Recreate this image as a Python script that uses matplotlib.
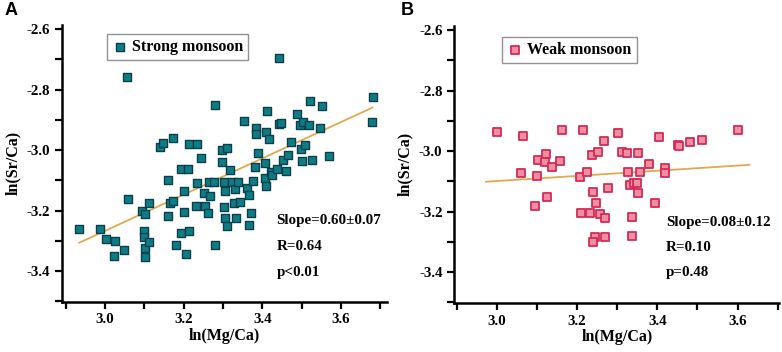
import numpy as np
import matplotlib
matplotlib.use("Agg")
import matplotlib.pyplot as plt
from matplotlib.ticker import MultipleLocator

plt.rcParams["font.family"] = ["Liberation Serif", "DejaVu Serif"]
plt.rcParams["font.weight"] = "bold"
plt.rcParams["axes.unicode_minus"] = False

# strong monsoon samples (ln Mg/Ca, ln Sr/Ca)
strong_x = [2.935, 2.987, 3.003, 3.026, 3.024, 3.049, 3.055, 3.058, 3.095, 3.101,
            3.099, 3.099, 3.102, 3.102, 3.112, 3.112, 3.141, 3.148, 3.173, 3.160,
            3.160, 3.164, 3.173, 3.181, 3.192, 3.192, 3.202, 3.202, 3.206, 3.211,
            3.213, 3.213, 3.234, 3.233, 3.231, 3.244, 3.251, 3.253, 3.262, 3.265,
            3.267, 3.276, 3.279, 3.279, 3.297, 3.297, 3.302, 3.304, 3.302, 3.304,
            3.311, 3.311, 3.318, 3.323, 3.331, 3.328, 3.333, 3.338, 3.343, 3.353,
            3.361, 3.365, 3.365, 3.371, 3.377, 3.382, 3.385, 3.385, 3.390, 3.409,
            3.407, 3.406, 3.409, 3.413, 3.417, 3.421, 3.425, 3.436, 3.442, 3.442,
            3.447, 3.453, 3.460, 3.466, 3.472, 3.488, 3.495, 3.497, 3.502, 3.503,
            3.508, 3.519, 3.522, 3.526, 3.547, 3.551, 3.570, 3.679, 3.680]
strong_y = [-3.260, -3.260, -3.295, -3.300, -3.349, -3.330, -2.758, -3.161, -3.200, -3.210,
            -3.266, -3.286, -3.322, -3.354, -3.176, -3.304, -2.988, -2.975, -2.961, -3.098,
            -3.218, -3.176, -3.169, -3.314, -3.273, -3.063, -3.135, -3.206, -3.344, -3.063,
            -2.980, -3.266, -2.980, -3.109, -3.183, -3.025, -3.140, -3.183, -3.209, -3.104,
            -3.151, -3.104, -2.849, -3.312, -3.001, -3.040, -3.104, -3.135, -3.189, -3.225,
            -3.250, -2.994, -3.067, -3.104, -3.129, -3.175, -3.223, -3.104, -3.171, -2.902,
            -3.126, -3.149, -3.248, -3.208, -3.101, -3.055, -2.926, -2.946, -3.010, -2.939,
            -3.044, -3.093, -3.117, -2.870, -2.964, -3.071, -3.083, -3.062, -2.696, -2.915,
            -2.911, -3.033, -3.069, -3.017, -2.972, -2.882, -2.918, -2.997, -3.035, -2.906,
            -2.984, -2.918, -2.839, -3.033, -2.926, -2.855, -3.020, -2.906, -2.825]

# weak monsoon samples
weak_x = [3.000, 3.066, 3.060, 3.095, 3.100, 3.103, 3.123, 3.121, 3.138, 3.124,
          3.157, 3.163, 3.215, 3.208, 3.210, 3.224, 3.232, 3.238, 3.239, 3.246,
          3.244, 3.240, 3.252, 3.258, 3.266, 3.270, 3.270, 3.276, 3.301, 3.311,
          3.325, 3.327, 3.333, 3.343, 3.349, 3.352, 3.352, 3.356, 3.336, 3.336,
          3.378, 3.394, 3.403, 3.419, 3.418, 3.452, 3.455, 3.481, 3.512, 3.601]
weak_y = [-2.936, -2.949, -3.073, -3.180, -3.083, -3.030, -3.010, -3.036, -3.052, -3.153,
          -3.034, -2.932, -2.932, -3.087, -3.206, -3.070, -3.206, -3.014, -3.135, -3.171,
          -3.284, -3.301, -3.004, -3.209, -2.968, -3.222, -3.284, -3.123, -2.939, -3.004,
          -3.008, -3.070, -3.113, -3.105, -3.104, -3.138, -3.008, -3.070, -3.219, -3.279,
          -3.044, -3.170, -2.954, -3.055, -3.074, -2.979, -2.983, -2.970, -2.965, -2.930]

strong_fit = (0.60, -5.067)   # slope, intercept
weak_fit = (0.085, -3.354)
strong_stats = ["Slope=0.60\u00b10.07", "R=0.64", "p<0.01"]
weak_stats = ["Slope=0.08\u00b10.12", "R=0.10", "p=0.48"]

line_color = "#e2a94c"

fig = plt.figure(figsize=(7.82, 3.52), dpi=100)
ax_a = fig.add_axes([0.0789, 0.143, 0.4156, 0.786])
ax_b = fig.add_axes([0.581, 0.140, 0.4156, 0.786])


def style_axes(ax, xlim, ylim):
    ax.set_xlim(*xlim)
    ax.set_ylim(*ylim)
    for s in ["top", "right"]:
        ax.spines[s].set_visible(False)
    for s in ["left", "bottom"]:
        ax.spines[s].set_linewidth(1.8)
    ax.xaxis.set_minor_locator(MultipleLocator(0.1))
    ax.yaxis.set_minor_locator(MultipleLocator(0.1))
    ax.tick_params(which="both", direction="out", length=5, width=1.6, labelsize=10.8)
    ax.set_xticks([3.0, 3.2, 3.4, 3.6])
    ax.set_yticks([-3.4, -3.2, -3.0, -2.8, -2.6])
    ax.set_xticklabels(["3.0", "3.2", "3.4", "3.6"])
    ax.set_yticklabels(["-3.4", "-3.2", "-3.0", "-2.8", "-2.6"])
    for lab in ax.get_xticklabels() + ax.get_yticklabels():
        lab.set_fontweight("bold")
    ax.set_xlabel("ln(Mg/Ca)", fontsize=11.5, fontweight="bold", labelpad=1)
    ax.set_ylabel("ln(Sr/Ca)", fontsize=11.5, fontweight="bold", labelpad=4)


def add_legend(ax, anchor):
    leg = ax.legend(loc="upper left", bbox_to_anchor=anchor, borderaxespad=0,
                    prop={"weight": "bold", "size": 11.5}, frameon=True, fancybox=False,
                    handletextpad=0.25, borderpad=0.32, handlelength=1.0)
    leg.get_frame().set_edgecolor("#777777")
    leg.get_frame().set_linewidth(1.0)


# panel A
style_axes(ax_a, (2.89, 3.716), (-3.501, -2.586))
ax_a.scatter(strong_x, strong_y, marker="s", s=28, facecolor="#0f7c84",
             edgecolor="#0b3f4c", linewidth=1.0, zorder=3, label="Strong monsoon")
xs = np.array([min(strong_x), max(strong_x)])
ax_a.plot(xs, strong_fit[0] * xs + strong_fit[1], color=line_color, lw=1.3, zorder=2)
for i, t in enumerate(strong_stats):
    ax_a.text(3.436, -3.231 - i * 0.087, t, fontsize=10.8, fontweight="bold", va="center")
add_legend(ax_a, (0.139, 0.968))

# panel B
style_axes(ax_b, (2.894, 3.704), (-3.501, -2.587))
ax_b.scatter(weak_x, weak_y, marker="s", s=28, facecolor="#ec8fa0",
             edgecolor="#d42a58", linewidth=1.3, zorder=3, label="Weak monsoon")
xs = np.array([2.973, 3.629])
ax_b.plot(xs, weak_fit[0] * xs + weak_fit[1], color=line_color, lw=1.3, zorder=2)
for i, t in enumerate(weak_stats):
    ax_b.text(3.422, -3.236 - i * 0.082, t, fontsize=10.8, fontweight="bold", va="center")
add_legend(ax_b, (0.147, 0.960))

fig.text(0.006, 0.995, "A", fontsize=13, fontweight="bold", va="top",
         family=["Liberation Sans", "DejaVu Sans"])
fig.text(0.512, 0.995, "B", fontsize=13, fontweight="bold", va="top",
         family=["Liberation Sans", "DejaVu Sans"])

fig.savefig("out.png", dpi=100)
